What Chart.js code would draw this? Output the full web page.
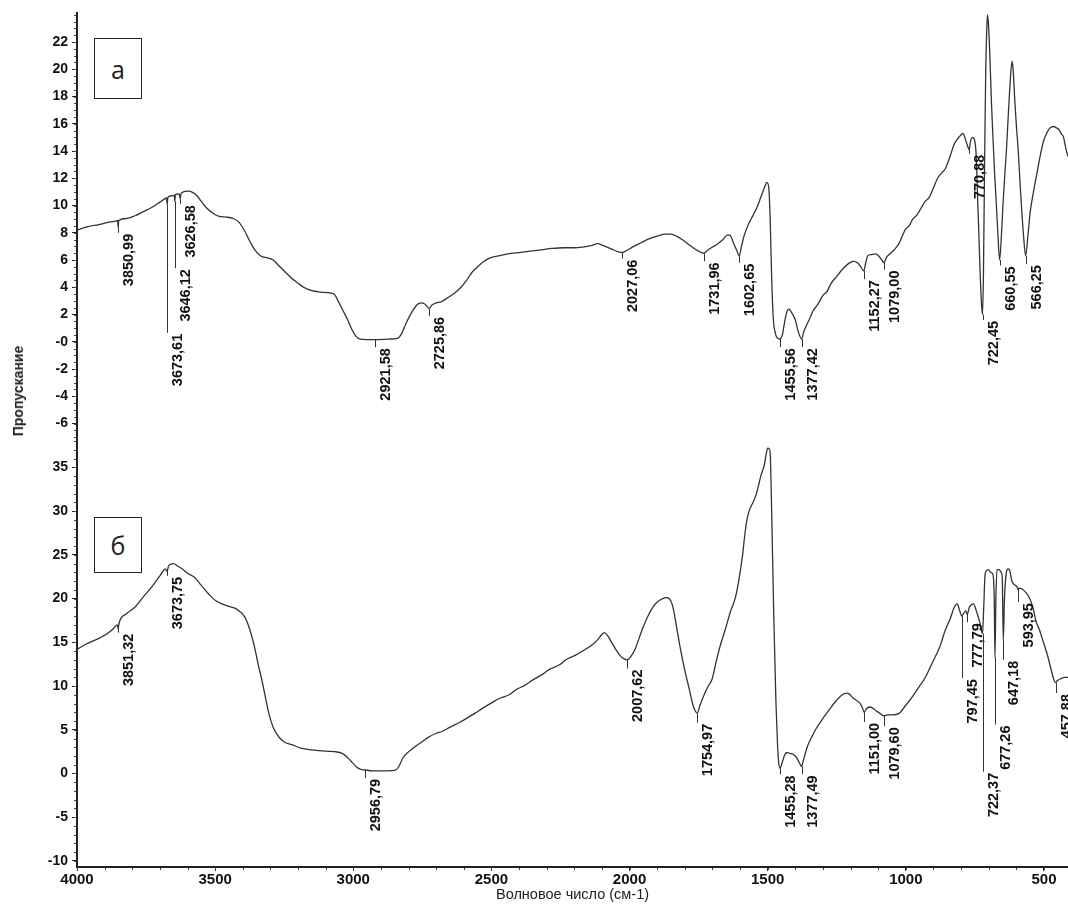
<!DOCTYPE html>
<html><head><meta charset="utf-8">
<script src="https://cdn.jsdelivr.net/npm/chart.js@4.4.1/dist/chart.umd.min.js"></script>
<style>
html,body{margin:0;padding:0;background:#fff;}
#wrap{position:relative;width:1068px;height:907px;overflow:hidden;}
#c{position:absolute;left:0;top:0;}
.box{position:absolute;border:1.5px solid #222;box-sizing:border-box;font-family:"Open Sans",sans-serif;font-size:25px;color:#222;display:flex;align-items:center;justify-content:center;background:#fff;}
#ytitle{position:absolute;left:18px;top:391px;transform:translate(-50%,-50%) rotate(-90deg);font:bold 14px "Liberation Sans",Arial,sans-serif;white-space:nowrap;color:#222;}
</style></head>
<body>
<div id="wrap">
<canvas id="c" width="1068" height="907"></canvas>
<div class="box" style="left:94px;top:38px;width:48px;height:61px;">а</div>
<div class="box" style="left:94px;top:517px;width:48px;height:56px;">б</div>
<div id="ytitle">Пропускание</div>
</div>
<script>
// ---- spectrum (a): wavenumber / transmittance ----
const topX = [4000,3960,3920,3880,3860,3853,3851,3849,3820,3790,3760,3730,3700,3685,3676,3673.6,3671,3660,3648,3646.1,3644,3630,3626.6,3623,3600,3580,3565,3550,3530,3505,3485,3460,3435,3415,3395,3375,3355,3335,3310,3290,3270,3250,3225,3200,3180,3150,3120,3090,3070,3055,3040,3020,3005,2990,2975,2921.6,2870,2840,2825,2810,2790,2770,2755,2740,2725.9,2715,2700,2680,2660,2635,2610,2590,2570,2550,2530,2505,2475,2440,2400,2360,2320,2280,2240,2200,2170,2140,2115,2095,2065,2040,2027.1,2010,1990,1960,1930,1900,1870,1850,1830,1810,1790,1770,1750,1732,1715,1700,1680,1660,1645,1635,1625,1612,1602.7,1595,1585,1570,1555,1540,1525,1512,1503,1496,1491,1486,1480,1472,1463,1455.6,1447,1440,1432,1424,1412,1400,1390,1377.4,1370,1360,1350,1335,1320,1300,1285,1270,1250,1230,1210,1190,1175,1163,1152.3,1145,1138,1125,1110,1098,1087,1079,1070,1060,1040,1025,1010,1000,988,975,960,945,930,915,900,885,870,857,840,825,812,800,793,785,777,771,765,758,750,745,740,735,730,726,722.5,719,715,711,707,704,700,695,690,685,679,673,667,660.6,654,648,642,636,630,624,619,615,611,605,599,593,587,581,574,566.3,558,550,538,526,514,502,490,478,465,455,447,438,429,422,416,413];
const topY = [8.2,8.45,8.6,8.8,8.85,8.9,8.4,8.9,9.05,9.25,9.55,9.85,10.25,10.45,10.55,10.1,10.6,10.7,10.75,10.3,10.8,10.85,10.5,10.9,11.05,10.95,10.7,10.3,9.8,9.4,9.2,9.15,9.05,8.8,8.2,7.4,6.7,6.3,6.15,6.0,5.6,5.2,4.7,4.3,4.0,3.75,3.65,3.6,3.5,3.0,2.4,1.6,0.9,0.4,0.2,0.15,0.2,0.25,0.6,1.3,2.1,2.7,2.85,2.75,2.45,2.7,2.85,2.95,3.2,3.55,4.0,4.5,5.1,5.5,5.85,6.15,6.3,6.45,6.55,6.65,6.75,6.85,6.9,6.9,6.95,7.05,7.2,7.05,6.8,6.6,6.55,6.7,6.95,7.25,7.55,7.75,7.9,7.9,7.75,7.5,7.2,6.9,6.65,6.5,6.75,6.95,7.2,7.55,7.85,7.8,7.3,6.7,6.3,7.0,7.8,8.6,9.2,9.8,10.6,11.3,11.7,11.3,9.0,5.0,1.8,0.6,0.25,0.2,0.5,1.3,2.1,2.4,2.1,1.6,0.8,0.2,0.7,1.2,1.6,2.3,2.7,3.4,3.7,4.3,4.8,5.3,5.7,5.9,5.8,5.5,5.2,5.8,6.3,6.4,6.45,6.3,6.0,5.8,6.2,6.4,6.8,7.2,7.9,8.3,8.5,9.0,9.3,9.8,10.3,10.6,11.3,12.0,12.4,12.7,13.6,14.5,14.9,15.2,15.3,14.9,14.4,14.1,14.8,15.0,14.7,13.5,10.5,7.5,4.5,2.8,2.0,5.0,13.0,19.5,23.0,24.0,23.0,20.5,17.5,15.2,12.5,10.3,8.0,6.0,7.8,10.2,12.2,14.0,16.3,18.5,20.0,20.6,19.8,17.5,15.6,14.0,11.8,9.8,7.8,6.3,7.8,9.5,11.0,12.3,13.6,14.7,15.3,15.7,15.8,15.7,15.6,15.3,15.0,14.3,13.8,13.6];

// ---- spectrum (б) ----
const botX = [4000,3960,3911,3870,3855,3851.3,3847,3820,3791,3760,3730,3700,3680,3673.8,3668,3650,3635,3620,3600,3574,3550,3523,3500,3476,3450,3429,3410,3393,3375,3357,3345,3331,3318,3306,3290,3270,3250,3223,3190,3150,3100,3067,3040,3020,3005,2990,2975,2956.8,2930,2880,2850,2835,2820,2799,2775,2752,2730,2700,2679,2650,2617,2590,2559,2530,2498,2470,2436,2410,2378,2350,2317,2290,2255,2230,2197,2170,2136,2115,2100,2092,2080,2065,2050,2035,2020,2007.6,1995,1980,1965,1950,1935,1920,1900,1880,1865,1850,1840,1830,1815,1800,1785,1772,1763,1755,1745,1730,1715,1701,1685,1670,1654,1635,1617,1605,1592,1582,1574,1565,1556,1545,1538,1525,1512,1505,1500,1494,1490,1485,1478,1470,1464,1460,1455.3,1448,1440,1430,1420,1408,1395,1385,1377.5,1370,1355,1340,1327,1300,1277,1255,1230,1215,1205,1190,1168,1158,1151,1143,1130,1121,1105,1090,1079.6,1065,1050,1023,1000,976,952,929,905,878,857,838,825,814,805,797.5,791,783,777.8,770,755,745,737,730,722.4,718,713,707,701,693,685,680,677.3,674,670,662,655,651,647.2,643,636,630,625,616,608,597,594,590,579,566,553,540,528,517,505,488,475,465,459,452,441,425,413];
const botY = [14.2,14.9,15.6,16.5,17.0,16.6,17.3,18.3,19.0,20.2,21.3,22.6,23.4,23.1,23.8,24.0,23.7,23.4,22.9,22.4,21.5,20.5,19.8,19.4,19.1,18.9,18.5,17.9,16.5,14.4,12.6,10.7,8.7,6.9,5.3,4.2,3.6,3.3,2.9,2.7,2.55,2.5,2.3,1.8,1.3,0.8,0.5,0.4,0.3,0.3,0.35,0.8,1.8,2.5,3.1,3.6,4.1,4.6,4.8,5.3,5.8,6.3,6.9,7.5,8.1,8.6,9.0,9.6,10.1,10.7,11.3,11.9,12.4,13.0,13.5,14.0,14.7,15.3,15.9,16.1,15.8,15.0,14.2,13.5,13.1,13.0,13.4,14.2,15.5,16.8,17.9,18.8,19.6,20.0,20.1,19.7,18.6,16.8,14.1,11.8,9.8,8.0,7.2,6.9,7.8,9.0,10.0,10.8,13.0,14.8,16.4,18.5,20.1,22.0,24.7,27.5,29.2,30.2,30.8,31.6,32.3,34.0,35.3,36.6,37.2,37.1,36.0,29.0,18.0,8.0,3.0,1.2,0.6,1.2,2.0,2.4,2.3,2.2,1.8,1.2,0.8,1.6,3.2,4.2,5.0,6.3,7.3,8.2,9.0,9.2,9.1,8.6,8.1,7.6,7.0,7.4,7.6,7.5,7.1,6.8,6.6,6.7,6.7,6.9,7.8,8.8,9.9,11.0,12.6,14.4,16.4,17.8,19.0,19.4,18.6,18.0,18.3,18.6,18.2,19.0,19.4,18.6,17.8,17.0,16.0,19.0,22.8,23.2,23.3,23.0,22.8,20.0,13.3,20.0,23.3,23.3,23.0,22.5,15.2,20.0,23.0,23.4,23.3,22.0,21.6,21.3,21.0,21.2,21.1,20.7,20.1,19.0,17.3,16.5,15.3,13.6,12.0,10.8,10.4,10.6,10.8,11.0,11.0];

// ---- peak marks: wavenumber, tick start value, tick end value ----
const topPeaks = [3850.99,3673.61,3646.12,3626.58,2921.58,2725.86,2027.06,1731.96,1602.65,1455.56,1377.42,1152.27,1079.00,770.88,722.45,660.55,566.25];
const topPeakFrom = [8.4,10.1,10.3,10.5,0.15,2.45,6.55,6.5,6.3,0.2,0.2,5.2,5.8,14.1,2.0,6.0,6.3];
const topPeakTo = [8.0,0.66,5.4,10.1,-0.4,1.9,6.1,5.9,5.8,-0.4,-0.4,4.6,5.3,13.8,1.6,5.6,5.7];
const botPeaks = [3851.32,3673.75,2956.79,2007.62,1754.97,1455.28,1377.49,1151.00,1079.60,797.45,777.79,722.37,677.26,647.18,593.95,457.88];
const botPeakFrom = [17.0,23.4,0.4,13.0,6.9,0.6,0.8,7.0,6.6,18.0,18.2,16.0,13.3,15.2,21.0,10.4];
const botPeakTo = [16.1,22.6,-0.5,12.0,5.8,-0.1,-0.1,5.9,5.4,10.9,17.3,0.2,5.6,13.0,19.6,9.2];

// ---- axes ----
const xTicks = [4000,3500,3000,2500,2000,1500,1000,500];
const topTickVals = [22,20,18,16,14,12,10,8,6,4,2,0,-2,-4,-6];
const topTickLabels = ['22','20','18','16','14','12','10','8','6','4','2','-0','-2','-4','-6'];
const botTickVals = [35,30,25,20,15,10,5,0,-5,-10];
const botTickLabels = ['35','30','25','20','15','10','5','0','-5','-10'];
const X_MIN = 413, X_MAX = 4000;
const TOP_MIN = -7.1, TOP_MAX = 24.13;
const BOT_MIN = -10.69, BOT_MAX = 38.3;

const INK = '#222';
const FONT = '"Liberation Sans", Arial, sans-serif';
const fmt = v => v.toFixed(2).replace('.', ',');

const minorTicks = {
  id: 'minorTicks',
  afterDraw(chart) {
    const ctx = chart.ctx;
    ctx.save();
    ctx.strokeStyle = '#444';
    ctx.lineWidth = 1;
    const yMinor = (scale, step) => {
      const x = scale.right;
      const n0 = Math.ceil(scale.min / step), n1 = Math.floor(scale.max / step);
      for (let n = n0; n <= n1; n++) {
        const y = Math.round(scale.getPixelForValue(n * step)) + 0.5;
        ctx.beginPath(); ctx.moveTo(x - 3, y); ctx.lineTo(x - 1, y); ctx.stroke();
      }
    };
    yMinor(chart.scales.yTop, 0.5);
    yMinor(chart.scales.yBot, 1);
    const xs = chart.scales.x;
    for (let v = 500; v <= 4000; v += 100) {
      const x = Math.round(xs.getPixelForValue(v)) + 0.5;
      ctx.beginPath(); ctx.moveTo(x, xs.top + 1); ctx.lineTo(x, xs.top + 3); ctx.stroke();
    }
    ctx.restore();
  }
};

const peakLabels = {
  id: 'peakLabels',
  afterDatasetsDraw(chart) {
    const ctx = chart.ctx, xs = chart.scales.x;
    ctx.save();
    ctx.strokeStyle = '#333';
    ctx.lineWidth = 1;
    ctx.fillStyle = '#111';
    ctx.font = 'bold 14.5px ' + FONT;
    const draw = (ys, peaks, from, to) => {
      peaks.forEach((p, i) => {
        const x = Math.round(xs.getPixelForValue(p)) + 0.5;
        const y0 = ys.getPixelForValue(from[i]);
        const y1 = ys.getPixelForValue(to[i]);
        ctx.beginPath(); ctx.moveTo(x, y0); ctx.lineTo(x, y1); ctx.stroke();
        ctx.save();
        ctx.translate(x + 14, y1 + 1);
        ctx.rotate(-Math.PI / 2);
        ctx.textAlign = 'right';
        ctx.textBaseline = 'alphabetic';
        ctx.fillText(fmt(p), 0, 0);
        ctx.restore();
      });
    };
    draw(chart.scales.yTop, topPeaks, topPeakFrom, topPeakTo);
    draw(chart.scales.yBot, botPeaks, botPeakFrom, botPeakTo);
    ctx.restore();
  }
};

const tickFont = {family: FONT, size: 14, weight: 'bold'};

new Chart(document.getElementById('c'), {
  type: 'line',
  data: {
    datasets: [
      {label: 'а', data: topX.map((x, i) => ({x, y: topY[i]})), yAxisID: 'yTop',
       borderColor: '#333', borderWidth: 1.3, pointRadius: 0, cubicInterpolationMode: 'monotone', fill: false},
      {label: 'б', data: botX.map((x, i) => ({x, y: botY[i]})), yAxisID: 'yBot',
       borderColor: '#333', borderWidth: 1.3, pointRadius: 0, cubicInterpolationMode: 'monotone', fill: false}
    ]
  },
  options: {
    responsive: false,
    animation: false,
    devicePixelRatio: 1,
    layout: {padding: {top: 13, left: 0, right: 0, bottom: 0}},
    plugins: {legend: {display: false}, tooltip: {enabled: false}},
    scales: {
      x: {
        type: 'linear', reverse: true, min: X_MIN, max: X_MAX, position: 'bottom',
        afterBuildTicks: s => { s.ticks = xTicks.map(v => ({value: v})); },
        afterFit: s => { s.height = 40; },
        ticks: {autoSkip: false, maxRotation: 0, padding: 0, color: '#111',
                font: {family: FONT, size: 15, weight: 'bold'},
                callback: v => String(v)},
        grid: {drawOnChartArea: false, tickLength: 4, tickColor: INK},
        border: {color: INK, width: 2},
        title: {display: true, text: 'Волновое число (см-1)', color: '#222',
                font: {family: FONT, size: 14.5},
                padding: {top: 0, bottom: 3}}
      },
      yTop: {
        type: 'linear', position: 'left', stack: 'spectra', stackWeight: 425.5, weight: 2,
        min: TOP_MIN, max: TOP_MAX,
        afterBuildTicks: s => { s.ticks = topTickVals.map(v => ({value: v})); },
        afterFit: s => { s.width = 77; },
        ticks: {autoSkip: false, padding: 4, color: '#111', font: tickFont,
                callback: v => topTickLabels[topTickVals.indexOf(v)]},
        grid: {drawOnChartArea: false, tickLength: 5, tickColor: INK},
        border: {color: INK, width: 2}
      },
      yBot: {
        type: 'linear', position: 'left', stack: 'spectra', stackWeight: 428.5, weight: 1,
        min: BOT_MIN, max: BOT_MAX,
        afterBuildTicks: s => { s.ticks = botTickVals.map(v => ({value: v})); },
        afterFit: s => { s.width = 77; },
        ticks: {autoSkip: false, padding: 4, color: '#111', font: tickFont,
                callback: v => botTickLabels[botTickVals.indexOf(v)]},
        grid: {drawOnChartArea: false, tickLength: 5, tickColor: INK},
        border: {color: INK, width: 2}
      }
    }
  },
  plugins: [minorTicks, peakLabels]
});
</script>
</body></html>
